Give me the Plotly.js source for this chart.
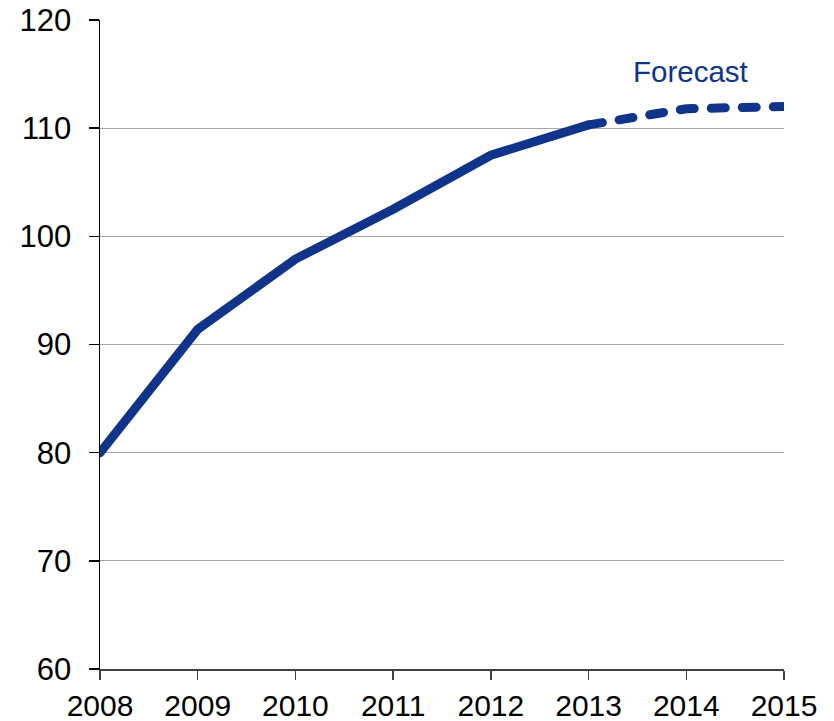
<!DOCTYPE html>
<html>
<head>
<meta charset="utf-8">
<script src="https://cdn.plot.ly/plotly-3.0.1.min.js"></script>
<style>html,body{margin:0;padding:0;background:#fff;}#chart{width:834px;height:721px;}
#chart path.js-line{stroke-linecap:round;}</style>
</head>
<body>
<div id="chart"></div>
<script>
const actualYears = [2008, 2009, 2010, 2011, 2012, 2013];
const actualValues = [80.0, 91.4, 97.9, 102.5, 107.5, 110.3];
const forecastYears = [2013, 2014, 2015];
const forecastValues = [110.3, 111.8, 112.0];
const yTicks = [60, 70, 80, 90, 100, 110, 120];
const xTicks = [2008, 2009, 2010, 2011, 2012, 2013, 2014, 2015];
const forecastLabel = "Forecast";

const lineColor = "#10348a";
const data = [
  {x: actualYears, y: actualValues, mode: "lines", line: {color: lineColor, width: 9}, hoverinfo: "skip"},
  {x: forecastYears, y: forecastValues, mode: "lines", line: {color: lineColor, width: 9, dash: "14px,17px"}, hoverinfo: "skip"}
];
const layout = {
  width: 834, height: 721,
  margin: {l: 100, r: 50, t: 20, b: 52},
  showlegend: false,
  paper_bgcolor: "#fff", plot_bgcolor: "#fff",
  font: {family: "Liberation Sans, Arial, sans-serif", color: "#000", size: 30},
  xaxis: {
    range: [2008, 2015], tickvals: xTicks, ticktext: xTicks.map(String),
    showgrid: false, zeroline: false, showline: true, linecolor: "#404040", linewidth: 1.5,
    ticks: "outside", ticklen: 9, tickcolor: "#404040", tickwidth: 1.5,
    ticklabelstandoff: 0,
    tickfont: {size: 30, color: "#000"}, fixedrange: true
  },
  yaxis: {
    range: [60, 120], tickvals: yTicks, ticktext: yTicks.map(String),
    showgrid: true, gridcolor: "#a6a6a6", gridwidth: 1.2, zeroline: false,
    showline: true, linecolor: "#000", linewidth: 1.5,
    ticks: "outside", ticklen: 10, tickcolor: "#000", tickwidth: 1.5,
    ticklabelstandoff: 11,
    tickfont: {size: 31, color: "#000"}, fixedrange: true
  },
  annotations: [{
    x: 2014.04, y: 115.2, xref: "x", yref: "y", text: forecastLabel, showarrow: false,
    font: {size: 29.5, color: lineColor, family: "Liberation Sans, Arial, sans-serif"},
    xanchor: "center", yanchor: "middle"
  }]
};
Plotly.newPlot("chart", data, layout, {staticPlot: true});
</script>
</body>
</html>
